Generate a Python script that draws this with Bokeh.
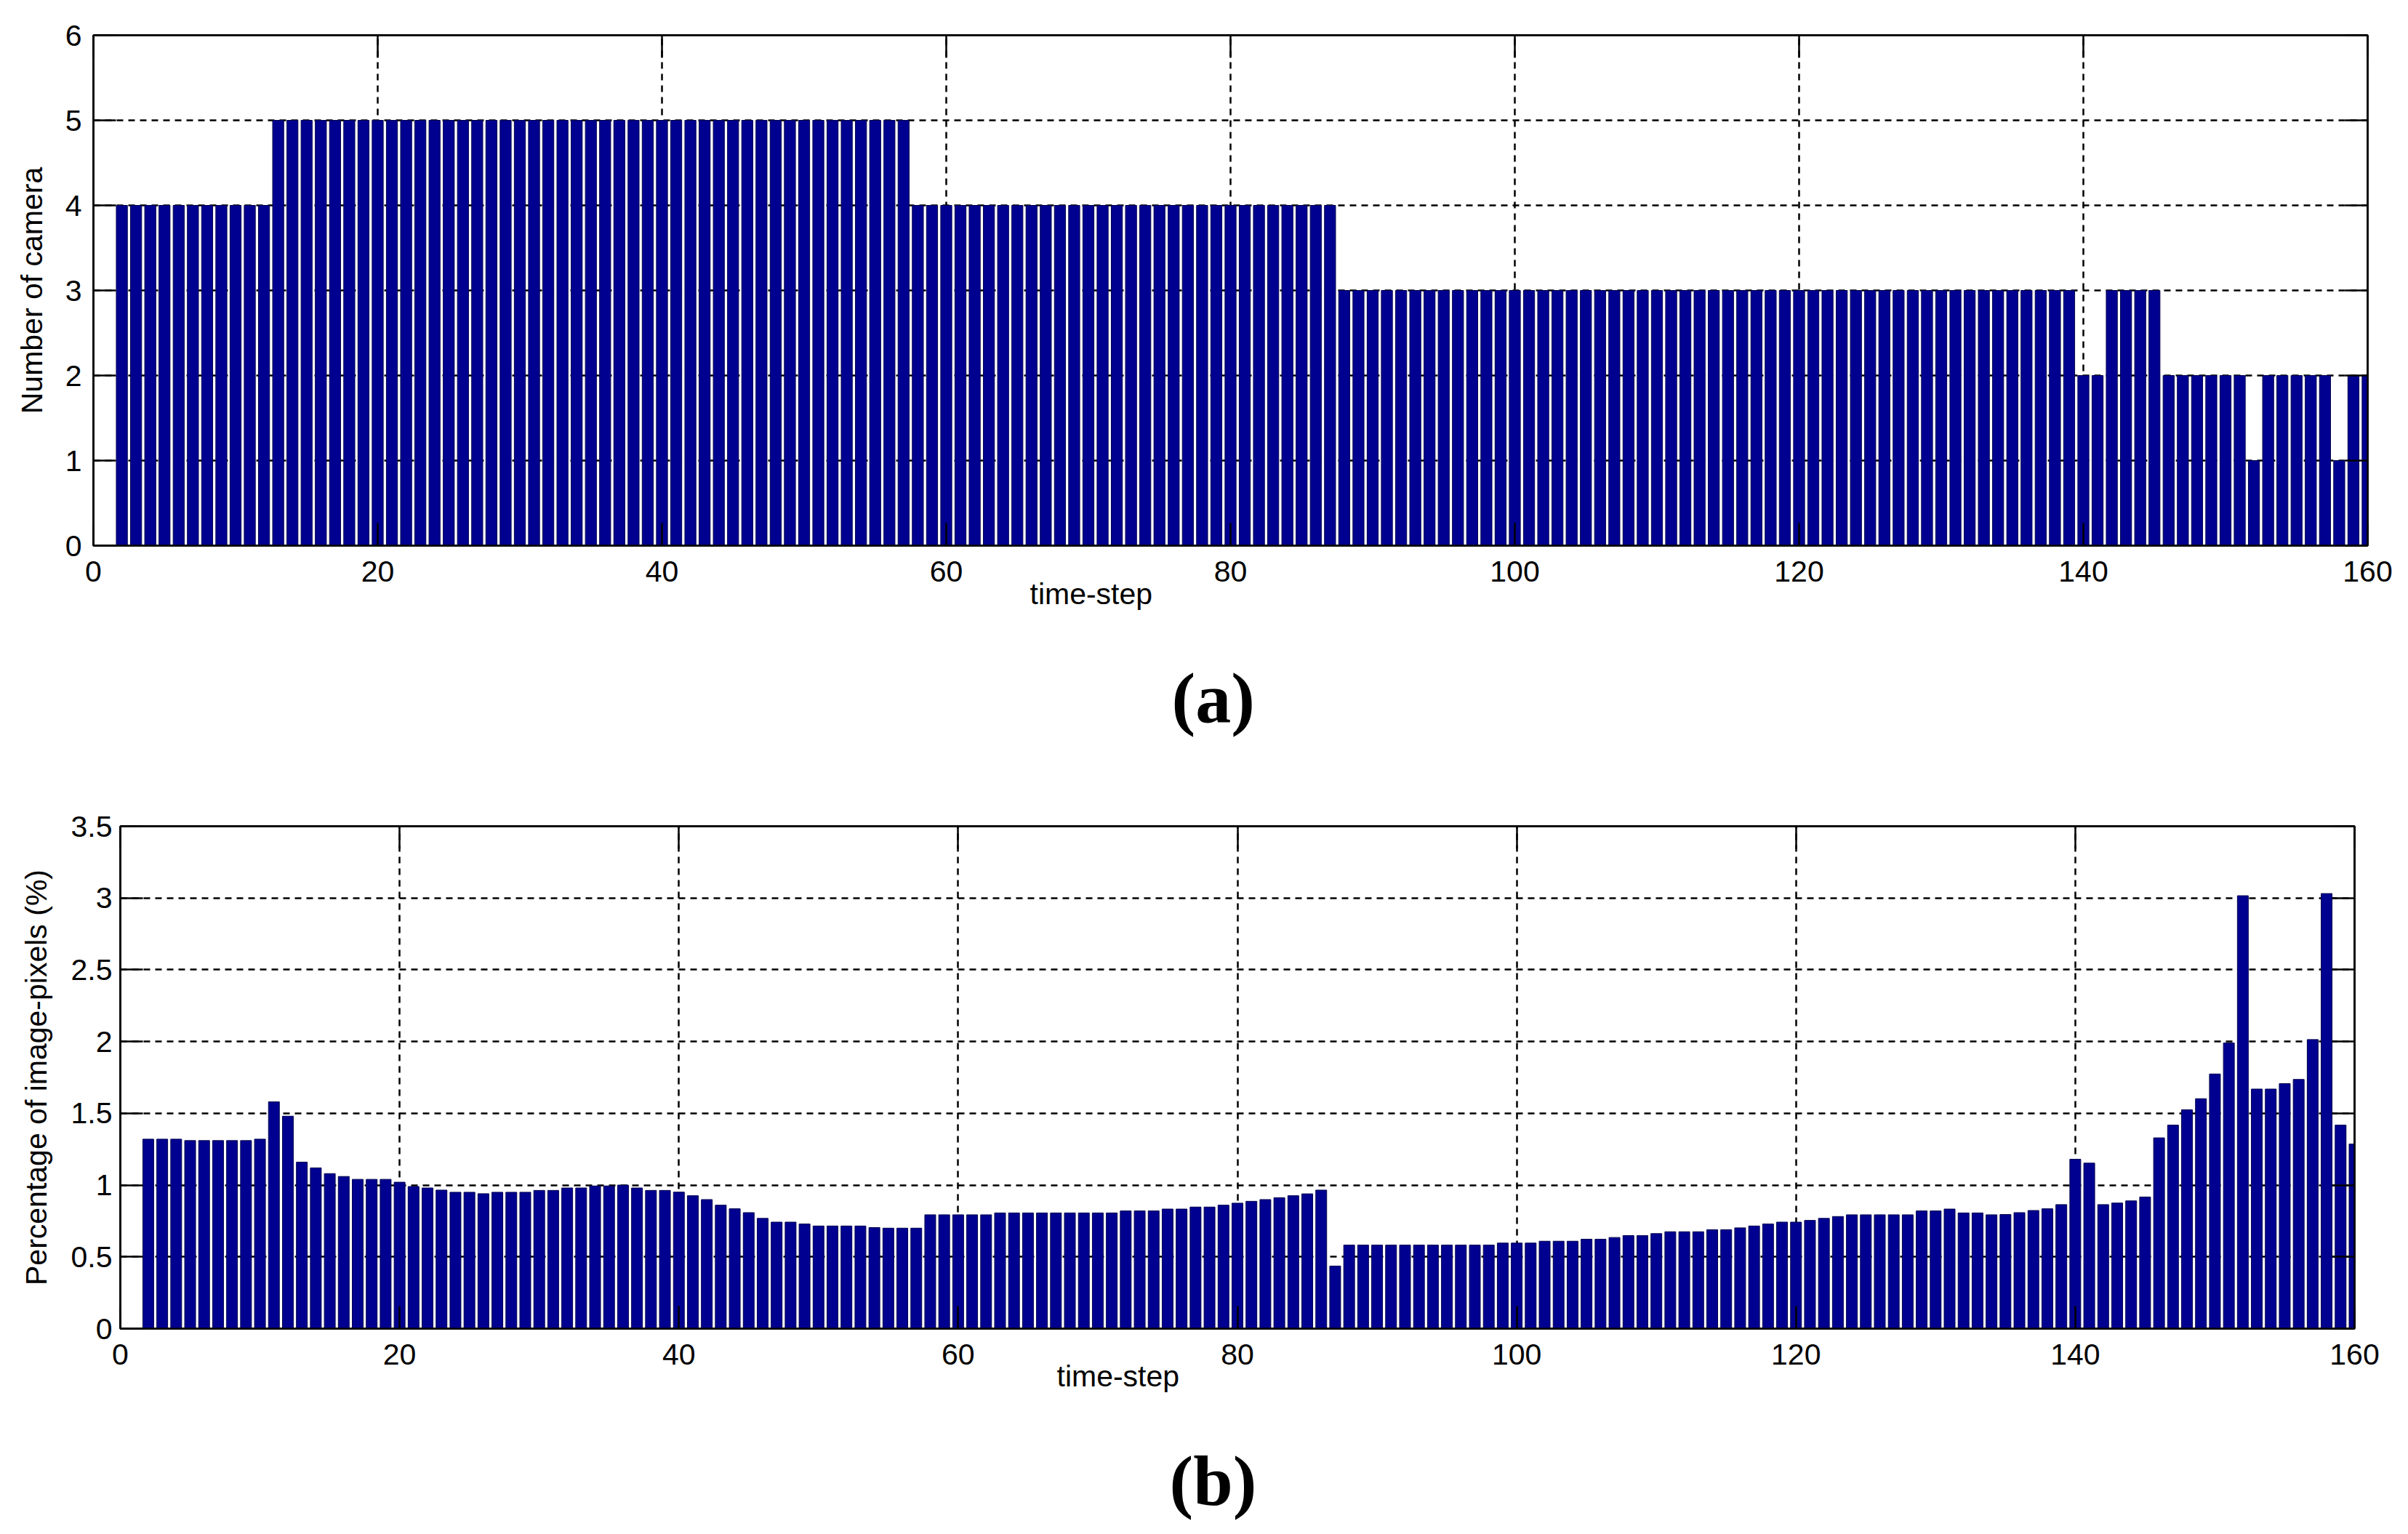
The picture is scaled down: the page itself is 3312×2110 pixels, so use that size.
from bokeh.plotting import figure
from bokeh.models import Range1d, LinearAxis, FixedTicker, Title, ColumnDataSource
from bokeh.embed import file_html
from bokeh.resources import INLINE

# ---------------- data ----------------
steps = list(range(2, 161))

cameras = [
    4, 4, 4, 4, 4, 4, 4, 4, 4, 4,          # 2-11
    4, 5, 5, 5, 5, 5, 5, 5, 5, 5,          # 12-21
    5, 5, 5, 5, 5, 5, 5, 5, 5, 5,          # 22-31
    5, 5, 5, 5, 5, 5, 5, 5, 5, 5,          # 32-41
    5, 5, 5, 5, 5, 5, 5, 5, 5, 5,          # 42-51
    5, 5, 5, 5, 5, 5, 4, 4, 4, 4,          # 52-61
    4, 4, 4, 4, 4, 4, 4, 4, 4, 4,          # 62-71
    4, 4, 4, 4, 4, 4, 4, 4, 4, 4,          # 72-81
    4, 4, 4, 4, 4, 4, 3, 3, 3, 3,          # 82-91
    3, 3, 3, 3, 3, 3, 3, 3, 3, 3,          # 92-101
    3, 3, 3, 3, 3, 3, 3, 3, 3, 3,          # 102-111
    3, 3, 3, 3, 3, 3, 3, 3, 3, 3,          # 112-121
    3, 3, 3, 3, 3, 3, 3, 3, 3, 3,          # 122-131
    3, 3, 3, 3, 3, 3, 3, 3, 2, 2,          # 132-141
    3, 3, 3, 3, 2, 2, 2, 2, 2, 2,          # 142-151
    1, 2, 2, 2, 2, 2, 1, 2, 2,             # 152-160
]

pixels_pct = [
    1.32, 1.32, 1.32, 1.31, 1.31, 1.31, 1.31, 1.31, 1.32, 1.58,          # 2-11
    1.48, 1.16, 1.12, 1.08, 1.06, 1.04, 1.04, 1.04, 1.02, 0.99,          # 12-21
    0.98, 0.965, 0.95, 0.95, 0.94, 0.95, 0.95, 0.95, 0.963, 0.963,       # 22-31
    0.98, 0.98, 0.994, 0.994, 1.0, 0.98, 0.963, 0.963, 0.951, 0.926,     # 32-41
    0.899, 0.86, 0.835, 0.808, 0.768, 0.742, 0.742, 0.729, 0.715, 0.715, # 42-51
    0.715, 0.715, 0.704, 0.70, 0.70, 0.70, 0.793, 0.793, 0.793, 0.793,   # 52-61
    0.793, 0.806, 0.806, 0.806, 0.806, 0.806, 0.806, 0.806, 0.806, 0.806,# 62-71
    0.82, 0.82, 0.82, 0.833, 0.833, 0.847, 0.847, 0.86, 0.874, 0.887,    # 72-81
    0.899, 0.912, 0.926, 0.939, 0.965, 0.436, 0.582, 0.582, 0.582, 0.582,# 82-91
    0.582, 0.582, 0.582, 0.582, 0.582, 0.582, 0.582, 0.596, 0.596, 0.596,# 92-101
    0.609, 0.609, 0.609, 0.623, 0.623, 0.635, 0.648, 0.648, 0.662, 0.675,# 102-111
    0.675, 0.675, 0.689, 0.689, 0.702, 0.715, 0.729, 0.742, 0.742, 0.754,# 112-121
    0.768, 0.781, 0.793, 0.793, 0.793, 0.793, 0.793, 0.82, 0.82, 0.833,  # 122-131
    0.806, 0.806, 0.793, 0.795, 0.808, 0.823, 0.835, 0.864, 1.18, 1.153, # 132-141
    0.864, 0.875, 0.89, 0.917, 1.329, 1.418, 1.525, 1.602, 1.774, 1.99,  # 142-151
    3.016, 1.669, 1.669, 1.707, 1.736, 2.014, 3.031, 1.418, 1.286,       # 152-160
]

x_ticks = [0, 20, 40, 60, 80, 100, 120, 140, 160]
ya_ticks = [0, 1, 2, 3, 4, 5, 6]
yb_ticks = [0, 0.5, 1, 1.5, 2, 2.5, 3, 3.5]
yb_labels = {0: "0", 0.5: "0.5", 1: "1", 1.5: "1.5", 2: "2", 2.5: "2.5", 3: "3", 3.5: "3.5"}

x_label = "time-step"
ya_label = "Number of camera"
yb_label = "Percentage of image-pixels (%)"

# ---------------- style ----------------
FONT = "Liberation Sans"
SERIF = "Liberation Serif"
FS = "41px"
BAR_FILL = "#000090"
BAR_LINE = "#00004e"
LW = 2.5
TICK = 31


def style_axis(ax, ticks, show_labels=True, overrides=None):
    ax.ticker = FixedTicker(ticks=ticks)
    ax.axis_line_color = "black"
    ax.axis_line_width = LW
    ax.major_tick_line_color = "black"
    ax.major_tick_line_width = LW
    ax.major_tick_in = TICK
    ax.major_tick_out = 0
    ax.minor_tick_line_color = None
    ax.major_label_text_font = FONT
    ax.major_label_text_color = "black"
    if show_labels:
        ax.major_label_text_font_size = FS
        if overrides:
            ax.major_label_overrides = overrides
    else:
        ax.major_label_text_font_size = "1px"
        ax.major_label_standoff = 0
        ax.major_label_overrides = {t: "" for t in ticks}


def make_panel(values, y_max, y_ticks, y_label, overrides, w, h, bl, br, bt, bb,
               ystand, ylab_standoff, xlab_off, xlab_stand, gap,
               panel_text, panel_off, panel_stand):
    p = figure(width=w, height=h,
               min_border_left=bl, min_border_right=br,
               min_border_top=bt, min_border_bottom=bb,
               x_range=Range1d(0, 160), y_range=Range1d(0, y_max),
               output_backend="svg", toolbar_location=None)
    p.background_fill_color = "white"
    p.border_fill_color = "white"
    p.outline_line_color = "black"
    p.outline_line_width = LW

    src = ColumnDataSource(dict(x=steps, top=values))
    p.vbar(x="x", top="top", bottom=0, width=0.78, source=src,
           fill_color=BAR_FILL, line_color=BAR_LINE, line_width=1)

    style_axis(p.xaxis[0], x_ticks)
    p.xaxis[0].major_label_standoff = 21
    style_axis(p.yaxis[0], y_ticks, overrides=overrides)
    p.yaxis[0].major_label_standoff = ystand
    p.yaxis[0].axis_label = y_label
    p.yaxis[0].axis_label_text_font = FONT
    p.yaxis[0].axis_label_text_font_size = FS
    p.yaxis[0].axis_label_text_font_style = "normal"
    p.yaxis[0].axis_label_text_color = "black"
    p.yaxis[0].axis_label_standoff = ylab_standoff

    top_ax = LinearAxis()
    style_axis(top_ax, x_ticks, show_labels=False)
    p.add_layout(top_ax, "above")
    right_ax = LinearAxis()
    style_axis(right_ax, y_ticks, show_labels=False)
    p.add_layout(right_ax, "right")

    for g, t in ((p.xgrid[0], x_ticks), (p.ygrid[0], y_ticks)):
        g.ticker = FixedTicker(ticks=t)
        g.grid_line_color = "black"
        g.grid_line_width = LW
        g.grid_line_dash = "9 7"

    # x label (left of centre as in the original)
    p.add_layout(Title(text=x_label, align="left", offset=xlab_off,
                       vertical_align="top", standoff=xlab_stand,
                       text_font=FONT, text_font_size=FS,
                       text_font_style="normal", text_color="black"), "below")
    # empty band between the x label and the panel letter
    gap_ax = LinearAxis()
    style_axis(gap_ax, x_ticks, show_labels=False)
    gap_ax.axis_line_color = None
    gap_ax.major_tick_line_color = None
    gap_ax.major_tick_in = 0
    gap_ax.major_tick_out = gap
    p.add_layout(gap_ax, "below")
    # panel letter
    p.add_layout(Title(text=panel_text, align="left", offset=panel_off,
                       vertical_align="bottom", standoff=panel_stand,
                       text_font=SERIF, text_font_size="98px",
                       text_font_style="bold", text_color="black"), "below")
    return p


pa = make_panel(cameras, 6, ya_ticks, ya_label, None,
                w=3304, h=1093, bl=128, br=48, bt=48, bb=343,
                ystand=16, ylab_standoff=20,
                xlab_off=1288, xlab_stand=-18, gap=91,
                panel_text="(a)", panel_off=1483, panel_stand=-40)

pb = make_panel(pixels_pct, 3.5, yb_ticks, yb_label, yb_labels,
                w=3304, h=1009, bl=165, br=66, bt=43, bb=275,
                ystand=11, ylab_standoff=22,
                xlab_off=1288, xlab_stand=-20, gap=93,
                panel_text="(b)", panel_off=1443, panel_stand=-40)

open("out.html", "w").write(file_html([pa, pb], INLINE))
